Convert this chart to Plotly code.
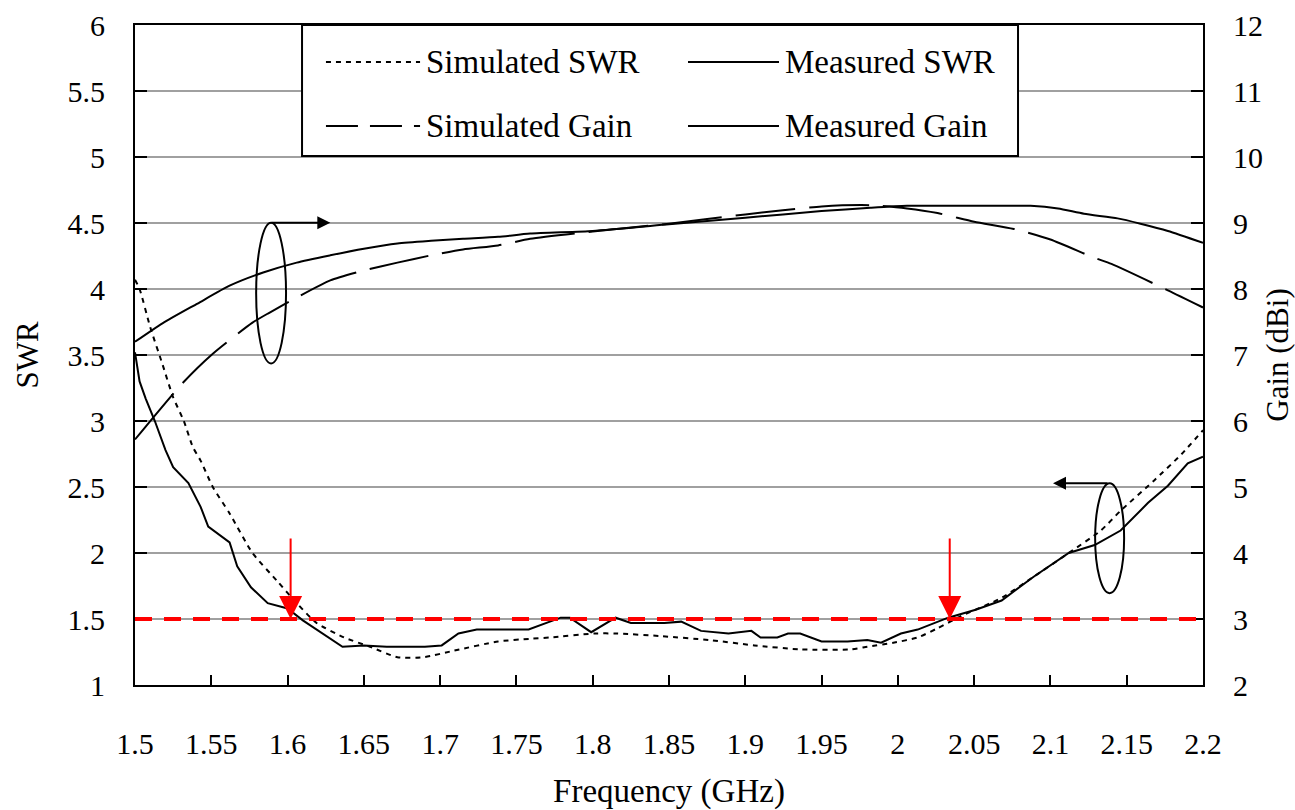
import plotly.graph_objects as go

# ---------------- data ----------------
freq_meas_swr = [1.500, 1.503, 1.507, 1.513, 1.520, 1.525, 1.535, 1.543, 1.548, 1.556,
                 1.562, 1.567, 1.576, 1.587, 1.600, 1.610, 1.623, 1.636, 1.650, 1.665,
                 1.690, 1.701, 1.712, 1.724, 1.758, 1.779, 1.785, 1.799, 1.815, 1.825,
                 1.847, 1.858, 1.871, 1.889, 1.904, 1.910, 1.921, 1.928, 1.936, 1.950,
                 1.967, 1.980, 1.989, 2.002, 2.013, 2.033, 2.051, 2.068, 2.089, 2.112,
                 2.129, 2.146, 2.164, 2.177, 2.190, 2.200]
meas_swr = [3.52, 3.30, 3.17, 3.00, 2.78, 2.65, 2.53, 2.35, 2.20, 2.13,
            2.08, 1.90, 1.74, 1.62, 1.58, 1.49, 1.39, 1.29, 1.30, 1.29,
            1.29, 1.30, 1.39, 1.42, 1.42, 1.51, 1.51, 1.40, 1.51, 1.47,
            1.47, 1.48, 1.41, 1.39, 1.41, 1.36, 1.36, 1.39, 1.39, 1.33,
            1.33, 1.34, 1.32, 1.39, 1.42, 1.51, 1.57, 1.64, 1.82, 2.00,
            2.06, 2.17, 2.38, 2.51, 2.68, 2.73]

freq_sim_swr = [1.500, 1.503, 1.510, 1.518, 1.525, 1.532, 1.538, 1.543, 1.551, 1.562,
                1.577, 1.593, 1.606, 1.619, 1.637, 1.654, 1.672, 1.689, 1.709, 1.738,
                1.759, 1.772, 1.801, 1.816, 1.845, 1.877, 1.906, 1.936, 1.969, 1.980,
                1.997, 2.013, 2.026, 2.041, 2.068, 2.089, 2.112, 2.133, 2.146, 2.168,
                2.186, 2.200]
sim_swr = [4.07, 4.00, 3.71, 3.43, 3.18, 3.00, 2.80, 2.70, 2.50, 2.30,
           2.00, 1.79, 1.62, 1.47, 1.36, 1.29, 1.21, 1.21, 1.26, 1.33,
           1.35, 1.36, 1.39, 1.39, 1.37, 1.34, 1.30, 1.27, 1.27, 1.29,
           1.32, 1.36, 1.43, 1.52, 1.66, 1.82, 2.00, 2.17, 2.32, 2.55,
           2.75, 2.93]

freq_meas_gain = [1.500, 1.518, 1.541, 1.562, 1.584, 1.606, 1.628, 1.650, 1.672, 1.694,
                  1.715, 1.738, 1.759, 1.800, 1.850, 1.900, 1.950, 1.982, 2.006, 2.041,
                  2.087, 2.105, 2.122, 2.144, 2.159, 2.177, 2.200]
meas_gain = [7.20, 7.48, 7.78, 8.05, 8.25, 8.40, 8.51, 8.61, 8.69, 8.73,
             8.76, 8.79, 8.84, 8.88, 8.98, 9.08, 9.18, 9.23, 9.26, 9.26,
             9.26, 9.22, 9.14, 9.07, 8.99, 8.88, 8.70]

freq_sim_gain = [1.500, 1.531, 1.551, 1.577, 1.588, 1.606, 1.628, 1.650, 1.672, 1.694,
                 1.715, 1.738, 1.759, 1.800, 1.850, 1.900, 1.950, 1.982, 2.006, 2.026,
                 2.050, 2.076, 2.100, 2.128, 2.140, 2.177, 2.200]
sim_gain = [5.72, 6.57, 7.02, 7.49, 7.64, 7.87, 8.13, 8.28, 8.40, 8.51,
            8.60, 8.66, 8.76, 8.87, 8.99, 9.13, 9.25, 9.27, 9.22, 9.15,
            9.02, 8.91, 8.75, 8.48, 8.38, 7.98, 7.72]

x_ticks = [1.5, 1.55, 1.6, 1.65, 1.7, 1.75, 1.8, 1.85, 1.9, 1.95, 2.0, 2.05, 2.1, 2.15, 2.2]
x_tick_text = ["1.5", "1.55", "1.6", "1.65", "1.7", "1.75", "1.8", "1.85", "1.9", "1.95",
               "2", "2.05", "2.1", "2.15", "2.2"]
swr_ticks = [1, 1.5, 2, 2.5, 3, 3.5, 4, 4.5, 5, 5.5, 6]
swr_tick_text = ["1", "1.5", "2", "2.5", "3", "3.5", "4", "4.5", "5", "5.5", "6"]
gain_ticks = [2, 3, 4, 5, 6, 7, 8, 9, 10, 11, 12]

swr_limit = 1.5
band_edges = [1.602, 2.034]

legend_labels = ["Simulated SWR", "Measured SWR", "Simulated Gain", "Measured Gain"]

# ---------------- figure ----------------
FONT = "Liberation Serif"
fig = go.Figure()

fig.add_trace(go.Scatter(x=freq_sim_swr, y=sim_swr, mode="lines", name=legend_labels[0],
                         line=dict(color="black", width=2, dash="5px,5px", shape="spline", smoothing=0.6)))
fig.add_trace(go.Scatter(x=freq_meas_swr, y=meas_swr, mode="lines", name=legend_labels[1],
                         line=dict(color="black", width=2)))
fig.add_trace(go.Scatter(x=freq_sim_gain, y=sim_gain, mode="lines", name=legend_labels[2], yaxis="y2",
                         line=dict(color="black", width=2, dash="60px,14px", shape="spline", smoothing=0.6)))
fig.add_trace(go.Scatter(x=freq_meas_gain, y=meas_gain, mode="lines", name=legend_labels[3], yaxis="y2",
                         line=dict(color="black", width=2, shape="spline", smoothing=0.6)))

# red dashed SWR = 1.5 line
fig.add_shape(type="line", xref="x", yref="y", x0=1.5, x1=2.2, y0=swr_limit, y1=swr_limit,
              line=dict(color="red", width=4, dash="17px,12px"))

# red arrows marking band edges
for fx in band_edges:
    fig.add_annotation(x=fx, y=swr_limit, xref="x", yref="y", ax=0, ay=-82, text="",
                       showarrow=True, arrowhead=2, arrowsize=2.3, arrowwidth=2, arrowcolor="red")

# ellipses + arrows indicating the axis of each curve group
fig.add_shape(type="circle", xref="x", yref="y", x0=1.5794, x1=1.5990, y0=3.436, y1=4.502,
              line=dict(color="black", width=2))
fig.add_annotation(x=1.628, y=4.502, xref="x", yref="y", ax=-60, ay=0, text="",
                   showarrow=True, arrowhead=2, arrowsize=1.3, arrowwidth=2, arrowcolor="black")
fig.add_shape(type="circle", xref="x", yref="y", x0=2.1293, x1=2.1483, y0=1.696, y1=2.528,
              line=dict(color="black", width=2))
fig.add_annotation(x=2.1017, y=2.528, xref="x", yref="y", ax=56, ay=0, text="",
                   showarrow=True, arrowhead=2, arrowsize=1.3, arrowwidth=2, arrowcolor="black")

# custom legend box
fig.add_shape(type="rect", xref="paper", yref="paper", x0=0.1564, x1=0.8268, y0=0.8015, y1=1.0,
              line=dict(color="black", width=2), fillcolor="white", layer="above")
rows = [0.944, 0.847]
cols = [(0.1788, 0.2669, 0.2706), (0.5178, 0.6030, 0.6067)]
styles = ["5px,5px", "solid", "32px,12px", "solid"]
for i, lab in enumerate(legend_labels):
    r = rows[i // 2]
    c = cols[i % 2]
    fig.add_shape(type="line", xref="paper", yref="paper", x0=c[0], x1=c[1], y0=r, y1=r,
                  line=dict(color="black", width=2, dash=styles[i]), layer="above")
    fig.add_annotation(x=c[2], y=r, xref="paper", yref="paper", text=lab, showarrow=False,
                       xanchor="left", yanchor="middle",
                       font=dict(family=FONT, size=33, color="black"))

fig.update_layout(
    width=1295, height=810,
    margin=dict(l=135, r=92, t=25, b=125),
    paper_bgcolor="white", plot_bgcolor="white",
    showlegend=False,
    font=dict(family=FONT, size=30, color="black"),
    xaxis=dict(range=[1.5, 2.2], tickvals=x_ticks, ticktext=x_tick_text,
               ticks="inside", ticklen=10, tickwidth=2, tickcolor="black",
               showline=True, linecolor="black", linewidth=2, mirror=True,
               showgrid=False, zeroline=False, ticklabelstandoff=31,
               title=dict(text="Frequency (GHz)", font=dict(family=FONT, size=33), standoff=22),
               automargin=False),
    yaxis=dict(range=[1, 6], tickvals=swr_ticks, ticktext=swr_tick_text,
               ticks="inside", ticklen=12, tickwidth=2, tickcolor="black",
               showline=True, linecolor="black", linewidth=2,
               showgrid=True, gridcolor="#a0a0a0", gridwidth=2, zeroline=False,
               ticklabelstandoff=22,
               title=dict(text="SWR", font=dict(family=FONT, size=31), standoff=20),
               automargin=False),
    yaxis2=dict(range=[2, 12], tickvals=gain_ticks, overlaying="y", side="right",
                ticks="inside", ticklen=12, tickwidth=2, tickcolor="black",
                showline=True, linecolor="black", linewidth=2,
                showgrid=False, zeroline=False, ticklabelstandoff=22,
                title=dict(text="Gain (dBi)", font=dict(family=FONT, size=31), standoff=20),
                automargin=False),
)

fig.write_html("out.html")
